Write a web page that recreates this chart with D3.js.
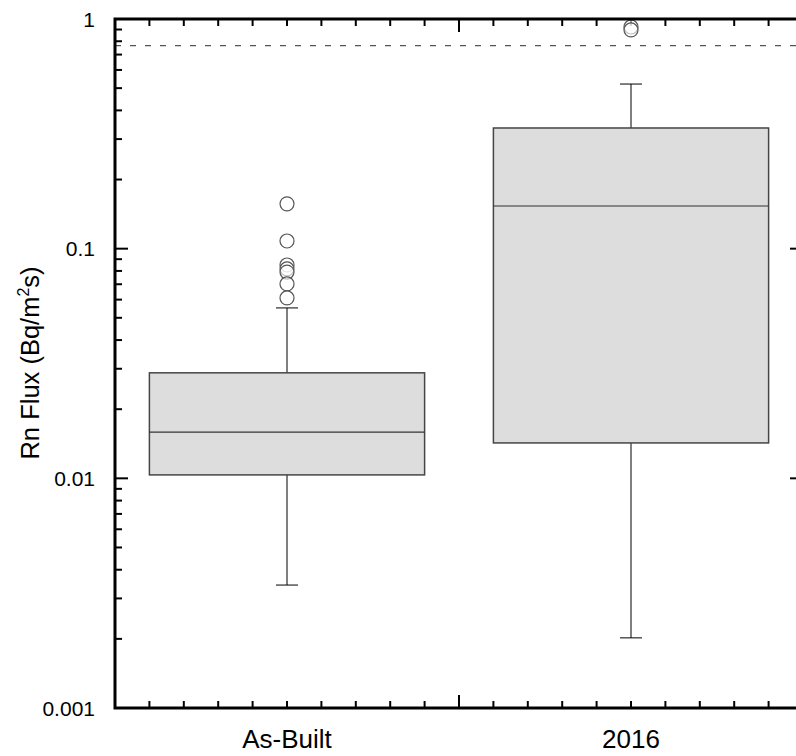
<!DOCTYPE html>
<html><head><meta charset="utf-8">
<script src="https://cdn.jsdelivr.net/npm/d3@7"></script>
<style>body{margin:0;background:#fff}svg{display:block}text{font-family:"Liberation Sans",Arial,sans-serif;fill:#000}</style>
</head><body><svg id="c" width="796" height="756"></svg>
<script>
const categories = ["As-Built", "2016"];
const whiskerLow = [0.00343, 0.00202];
const q1 = [0.01035, 0.01426];
const median = [0.0159, 0.1534];
const q3 = [0.0288, 0.3353];
const whiskerHigh = [0.0552, 0.521];
const outliers = [
  [0.1567, 0.108, 0.0849, 0.0816, 0.0791, 0.0702, 0.0610],
  [0.923, 0.896]
];
const referenceLine = 0.765;
const yTicks = [1, 0.1, 0.01, 0.001];
const yTickLabels = ["1", "0.1", "0.01", "0.001"];

const svg = d3.select("#c");
const L = 115, R = 803, T = 19, B = 708;
const y = d3.scaleLog().domain([0.001, 1]).range([B, T]);
const x = d3.scaleBand().domain(categories).range([L, R]).padding(0);
const xt = d3.scaleLinear().domain([0, 20]).range([L, R]);

// frame ticks first (beneath data)
const minor = [];
[0.001, 0.01, 0.1].forEach(d => { for (let k = 2; k <= 9; k++) minor.push(d * k); });
[[L, 1], [R, -1]].forEach(([x0, dir]) => {
  yTicks.forEach(v => svg.append("line").attr("x1", x0).attr("x2", x0 + dir * 13).attr("y1", y(v)).attr("y2", y(v)).attr("stroke", "#000").attr("stroke-width", 2));
  minor.forEach(v => svg.append("line").attr("x1", x0).attr("x2", x0 + dir * 7).attr("y1", y(v)).attr("y2", y(v)).attr("stroke", "#000").attr("stroke-width", 2));
});
[[B, -1], [T, 1]].forEach(([y0, dir]) => {
  d3.range(1, 20).forEach(k => {
    const len = (k === 10) ? 13 : 7;
    svg.append("line").attr("x1", xt(k)).attr("x2", xt(k)).attr("y1", y0).attr("y2", y0 + dir * len).attr("stroke", "#000").attr("stroke-width", 2);
  });
});

// reference line
svg.append("line").attr("x1", L).attr("x2", R).attr("y1", y(referenceLine)).attr("y2", y(referenceLine))
  .attr("stroke", "#555").attr("stroke-width", 1.2).attr("stroke-dasharray", "6,9");

// boxes
categories.forEach((c, i) => {
  const cx = x(c) + x.bandwidth() / 2;
  const bw = x.bandwidth() * 0.8;
  const g = svg.append("g");
  g.append("line").attr("x1", cx).attr("x2", cx).attr("y1", y(q3[i])).attr("y2", y(whiskerHigh[i])).attr("stroke", "#000").attr("stroke-width", 1);
  g.append("line").attr("x1", cx).attr("x2", cx).attr("y1", y(q1[i])).attr("y2", y(whiskerLow[i])).attr("stroke", "#000").attr("stroke-width", 1);
  [whiskerHigh[i], whiskerLow[i]].forEach(v => {
    g.append("line").attr("x1", cx - 11).attr("x2", cx + 11).attr("y1", y(v)).attr("y2", y(v)).attr("stroke", "#000").attr("stroke-width", 1);
  });
  g.append("rect").attr("x", cx - bw / 2).attr("width", bw)
    .attr("y", y(q3[i])).attr("height", y(q1[i]) - y(q3[i]))
    .attr("fill", "#dcdddc").attr("stroke", "#454545").attr("stroke-width", 1.5);
  g.append("line").attr("x1", cx - bw / 2).attr("x2", cx + bw / 2).attr("y1", y(median[i])).attr("y2", y(median[i])).attr("stroke", "#333").attr("stroke-width", 1.2);
  outliers[i].forEach(v => {
    g.append("circle").attr("cx", cx).attr("cy", y(v)).attr("r", 7)
      .attr("fill", "#fff").attr("fill-opacity", 0.6).attr("stroke", "#555").attr("stroke-width", 1.2);
  });
});

// frame
svg.append("rect").attr("x", L).attr("y", T).attr("width", R - L).attr("height", B - T)
  .attr("fill", "none").attr("stroke", "#000").attr("stroke-width", 3);

// y tick labels
yTicks.forEach((v, i) => {
  svg.append("text").attr("x", 95).attr("y", y(v)).attr("dy", "0.36em").attr("text-anchor", "end")
    .attr("font-size", 21).text(yTickLabels[i]);
});
// x labels
categories.forEach(c => {
  svg.append("text").attr("x", x(c) + x.bandwidth() / 2).attr("y", 748).attr("text-anchor", "middle")
    .attr("font-size", 26).text(c);
});
// y axis title
const t = svg.append("text").attr("transform", "translate(39,363) rotate(-90)").attr("text-anchor", "middle").attr("font-size", 25.5);
t.append("tspan").text("Rn Flux (Bq/m");
t.append("tspan").attr("font-size", 16).attr("dy", -10).text("2");
t.append("tspan").attr("dy", 10).text("s)");
</script></body></html>
